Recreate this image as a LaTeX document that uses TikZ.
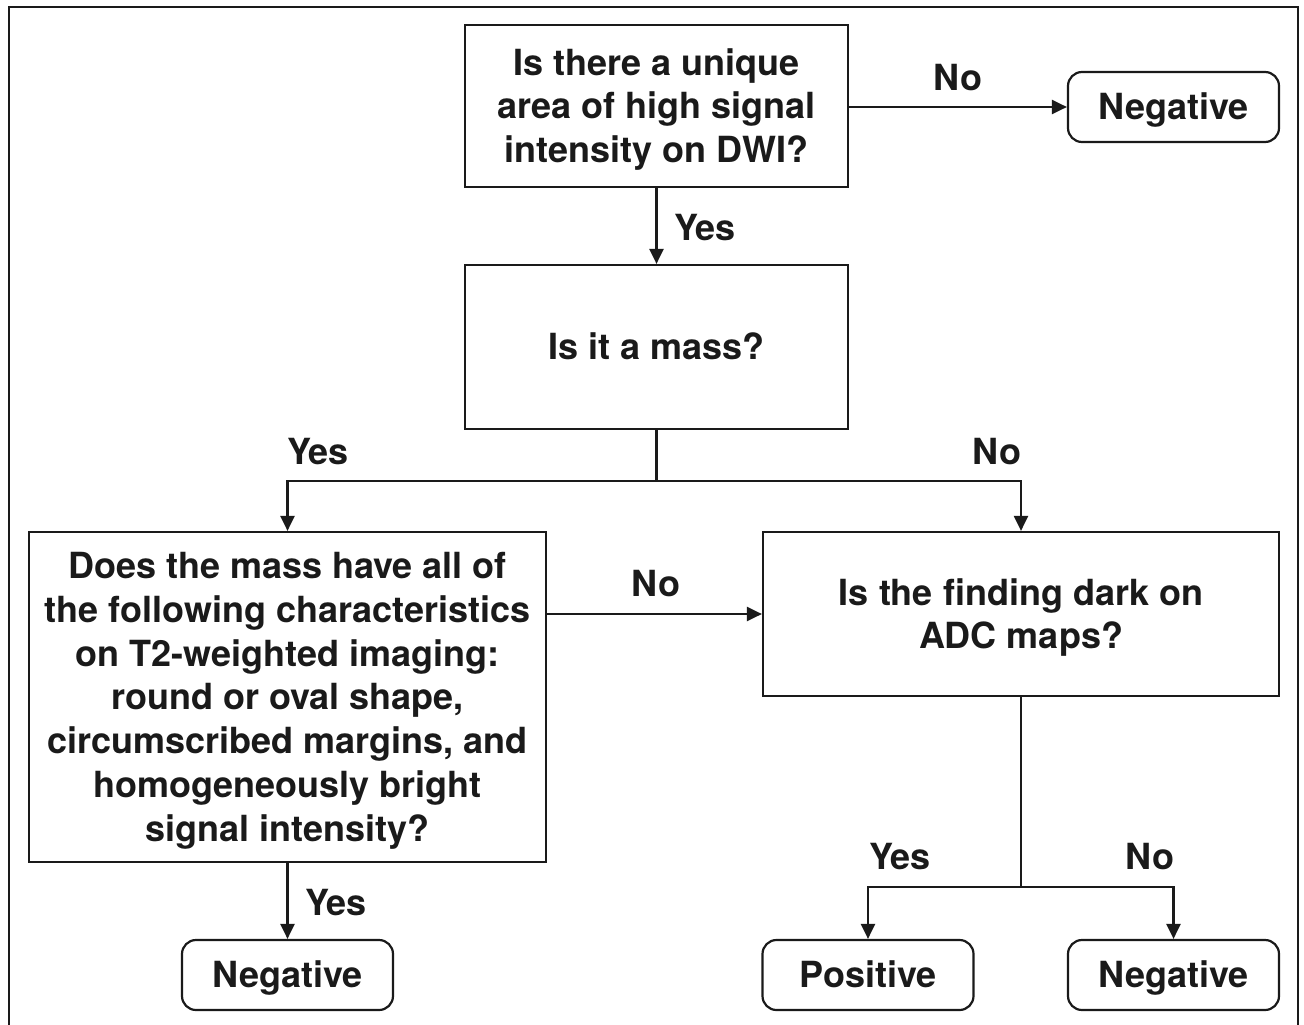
\documentclass[tikz,border=0pt]{standalone}
\usepackage{fontspec}
\setmainfont{TeX Gyre Heros}
\usetikzlibrary{arrows.meta}
\definecolor{ink}{HTML}{1A1A1A}
\begin{document}
\begin{tikzpicture}[x=1pt,y=-1pt,
  every node/.style={font=\fontsize{36}{43.7}\selectfont\bfseries, text=ink},
  qbox/.style={draw=ink, line width=2.2pt, rectangle, inner sep=0pt, align=center, text depth=0pt},
  endbox/.style={draw=ink, line width=2.2pt, rectangle, rounded corners=14pt, inner sep=0pt,
    minimum width=211pt, minimum height=70pt, align=center, text height=25.8pt, text depth=0pt},
  arr/.style={draw=ink, line width=2.2pt, -{Triangle[length=15pt,width=14pt]}},
  conn/.style={draw=ink, line width=2.2pt},
  lbl/.style={anchor=base, inner sep=0pt}]
\useasboundingbox (0,0) rectangle (1304,1025);
\draw[draw=ink, line width=2.5pt] (9,1030) -- (9,7) -- (1298,7) -- (1298,1030);

\node[qbox, minimum width=383pt, minimum height=162pt, text height=113.2pt] (b1) at (656.5,106)
  {Is there a unique\\area of high signal\\intensity on DWI?};
\node[endbox] (neg1) at (1173.5,107) {Negative};
\node[qbox, minimum width=383pt, minimum height=164pt, text height=25.8pt] (b2) at (656.5,347) {Is it a mass?};
\node[qbox, minimum width=517pt, minimum height=330pt, text height=288pt] (b3) at (287.5,697)
  {Does the mass have all of\\the following characteristics\\on T2-weighted imaging:\\round or oval shape,\\circumscribed margins, and\\homogeneously bright\\signal intensity?};
\node[qbox, minimum width=516pt, minimum height=164pt, text height=69.5pt] (b4) at (1021,614)
  {Is the finding dark on\\ADC maps?};
\node[endbox] (neg2) at (287.5,975) {Negative};
\node[endbox] (pos) at (868,975) {Positive};
\node[endbox] (neg3) at (1173.5,975) {Negative};

\coordinate (j1) at (656.5,481);
\coordinate (j2) at (1021,887);

\draw[arr] (b1.east |- neg1.west) -- (neg1.west);
\draw[arr] (b1.south) -- (b2.north);
\draw[conn] (b2.south) -- (j1);
\draw[arr] (j1) -| (b3.north);
\draw[arr] (j1) -| (b4.north);
\draw[arr] (b3.east |- b4.west) -- (b4.west);
\draw[arr] (b3.south) -- (neg2.north);
\draw[conn] (b4.south) -- (j2);
\draw[arr] (j2) -| (pos.north);
\draw[arr] (j2) -| (neg3.north);

\node[lbl] (l1) at (958,90.5) {No};
\node[lbl] (l2) at (705,240.5) {Yes};
\node[lbl] (l3) at (318,464.5) {Yes};
\node[lbl] (l4) at (997,464.5) {No};
\node[lbl] (l5) at (656,596.5) {No};
\node[lbl] (l6) at (900,869.5) {Yes};
\node[lbl] (l7) at (1150,869.5) {No};
\node[lbl] (l8) at (336,915.5) {Yes};
\end{tikzpicture}
\end{document}
